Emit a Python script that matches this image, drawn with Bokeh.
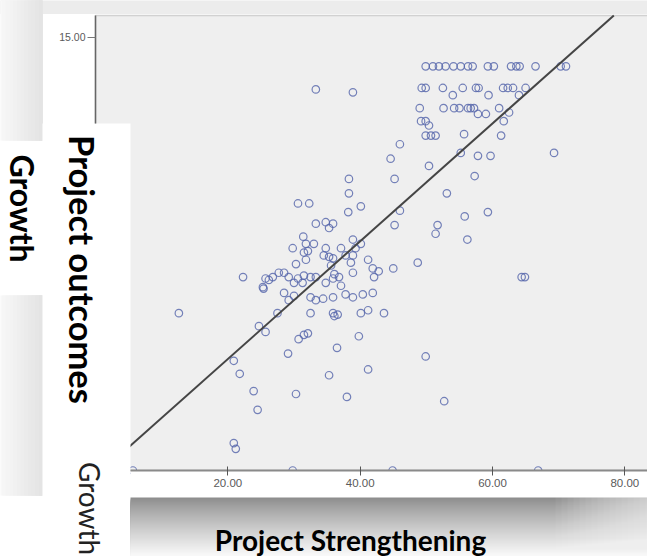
import numpy as np
from bokeh.plotting import figure
from bokeh.models import BoxAnnotation, Label, FixedTicker, NumeralTickFormatter, LinearAxis
from bokeh.embed import file_html
from bokeh.resources import INLINE

# ---------------- data ----------------
strengthening = [
    49.9, 51.0, 51.9, 52.9, 54.1, 55.2, 56.3, 57.0, 59.3, 60.2, 62.8, 63.6, 64.1, 66.5, 70.3, 71.1,
    49.3, 49.9, 52.5, 54.0, 55.5, 57.5, 57.9, 59.4, 61.6, 62.3, 63.1, 64.0, 65.0, 33.3, 38.9,
    49.0, 52.6, 54.2, 55.0, 56.3, 56.7, 57.2, 57.8, 59.0, 61.0, 62.5,
    49.2, 49.9, 50.4, 61.7,
    49.9, 50.7, 51.4, 55.7, 61.3,
    46.0, 44.6, 50.4, 55.2, 57.8, 59.7, 69.3, 45.2, 57.3, 53.1, 38.3, 38.3, 40.1, 38.2, 46.0,
    45.2, 55.8, 59.3, 51.7, 51.4, 56.2, 48.7, 45.0, 64.4, 64.9,
    30.6, 32.3, 33.3, 34.8, 35.9, 35.3, 31.4, 29.8, 31.8, 33.0, 34.8, 35.3, 31.5, 32.1, 30.3,
    31.8, 28.5, 26.8, 26.2, 25.3, 22.3, 34.5, 35.9, 37.1, 37.8, 38.9, 39.3, 40.1, 38.9, 38.6,
    38.9, 41.2, 41.9, 42.8, 42.1, 35.6, 36.1, 27.7, 25.7, 25.4, 29.2, 30.0, 30.6, 31.5, 32.5,
    33.3, 31.3, 34.8, 35.9, 36.8, 37.1, 28.5, 29.2, 30.0, 32.5, 33.3, 34.4, 35.9, 37.8, 38.9,
    40.4, 41.9, 32.5, 35.9, 36.1, 36.6, 40.1, 41.2, 43.6, 31.5, 32.1, 39.8, 25.7, 24.7, 27.5,
    12.6, 30.7, 29.1, 36.5, 35.3, 41.2, 30.3, 38.0, 49.9, 52.7, 24.5, 20.9, 21.8, 23.9, 20.9,
    21.2,
    5.65, 29.8, 44.9, 66.9,
]
growth = [
    14.0, 14.0, 14.0, 14.0, 14.0, 14.0, 14.0, 14.0, 14.0, 14.0, 14.0, 14.0, 14.0, 14.0, 14.0, 14.0,
    13.25, 13.25, 13.25, 13.0, 13.25, 13.25, 13.25, 13.0, 13.25, 13.25, 13.25, 13.0, 13.25, 13.2, 13.1,
    12.55, 12.55, 12.55, 12.55, 12.55, 12.55, 12.55, 12.35, 12.35, 12.55, 12.4,
    12.1, 12.1, 11.95, 12.1,
    11.6, 11.6, 11.6, 11.65, 11.6,
    11.3, 10.8, 10.55, 11.0, 10.9, 10.9, 11.0, 10.1, 10.2, 9.6, 10.1, 9.6, 9.15, 8.95, 9.0,
    8.5, 8.8, 8.95, 8.5, 8.2, 8.0, 7.2, 7.0, 6.7, 6.7,
    9.25, 9.25, 8.55, 8.6, 8.55, 8.4, 8.1, 7.7, 7.85, 7.85, 7.7, 7.4, 7.55, 7.6, 7.15,
    7.3, 6.85, 6.7, 6.6, 6.35, 6.7, 7.45, 7.35, 7.7, 7.45, 8.0, 7.7, 7.85, 7.45, 7.2,
    6.85, 7.3, 7.0, 6.9, 6.7, 7.1, 6.8, 6.85, 6.65, 6.3, 6.7, 6.5, 6.65, 6.75, 6.7,
    6.7, 6.5, 6.5, 6.65, 6.7, 6.4, 6.15, 5.9, 6.05, 6.0, 5.9, 5.95, 6.0, 6.1, 6.0,
    6.1, 6.15, 5.45, 5.45, 5.35, 5.4, 5.45, 5.55, 5.45, 4.7, 4.75, 4.65, 4.8, 5.0, 5.45,
    5.45, 4.55, 4.05, 4.25, 3.3, 3.5, 2.65, 2.55, 3.95, 2.4, 2.1, 3.8, 3.35, 2.75, 0.95,
    0.75,
    0.0, 0.0, 0.0, 0.0,
]
fit_intercept = -0.22
fit_slope = 0.204
x_ticks = [20, 40, 60, 80]
y_ticks = [15]
y_top = 15.76
x_title = "Project Strengthening"
y_title = "Project outcomes"
y_side_bold = "Growth"
y_side = "Growth"

# ---------------- geometry (canvas pixels) ----------------
W, H = 647, 556
X0_PX, Y0_PX = 95.0, 470.0          # where x=0 / y=0 fall
PX_X, PX_Y = 6.617, 28.87           # pixels per data unit

def dx(X):
    return (X - X0_PX) / PX_X

def dy(Y):
    return (Y0_PX - Y) / PX_Y

p = figure(width=W, height=H, x_range=(dx(0), dx(W)), y_range=(dy(H), dy(0)),
           output_backend="svg", toolbar_location=None,
           x_axis_location=None, y_axis_location=None,
           min_border=0, min_border_left=0, min_border_right=0,
           min_border_top=0, min_border_bottom=0)
p.background_fill_color = "white"
p.border_fill_color = "white"
p.outline_line_color = None
p.xgrid.visible = False
p.ygrid.visible = False

# plot area (grey panel with frame line)
p.add_layout(BoxAnnotation(left=0, right=dx(W + 20), bottom=0, top=y_top,
                           fill_color="#efefef", fill_alpha=1.0,
                           line_color="#7a7a7a", line_width=1.5, level="underlay"))

# ---------------- marks ----------------
p.scatter(strengthening, growth, marker="circle", size=7.5, fill_color=None,
          line_color="#5464aa", line_width=1.2, line_alpha=0.8)

fit_x = np.array([0.0, (y_top - fit_intercept) / fit_slope])
fit_y = fit_intercept + fit_slope * fit_x
p.line(fit_x, fit_y, line_color="#454545", line_width=2)

# ---------------- overlays ----------------
def box(X0, X1, Y0, Y1, color, alpha=1.0):
    p.add_layout(BoxAnnotation(left=dx(X0), right=dx(X1), top=dy(Y0), bottom=dy(Y1),
                               fill_color=color, fill_alpha=alpha, line_color=None))

def grey(v):
    v = int(round(v))
    return "#%02x%02x%02x" % (v, v, v)

# white below the plot area (hides lower halves of points on the axis)
box(130, W + 5, 470.5, 497, "white")
# top shade
box(-5, W + 5, -5, 13.5, "#ececec")
# left shaded strips (each overlaps to the right edge of the strip: no seams)
n = 12
for i in range(n):
    X0 = -2 + i * 44 / n
    c = grey(249 - 22 * (i + 0.5) / n)
    box(X0, 42, -5, 140, c)
    box(X0, 42, 295, 495, c)
# white panel over the left of the plot
box(42, 130, 123, H + 5, "white")
# bottom gradient band (overlapping boxes, darkest first)
m = 30
for j in range(m):
    Y0 = 497 + j * 60 / m
    t = (j + 0.5) / m
    box(130, W + 5, Y0, H + 5, grey(138 + 114 * t ** 0.85))
# fade of the band to the right
k = 16
for i in range(k):
    box(555 + i * 6, W + 5, 496.5, H + 5, "white", 0.055)

# ---------------- axes (fixed inside the canvas) ----------------
xaxis = LinearAxis(fixed_location=0, level="overlay", bounds=(dx(130), dx(W + 20)))
xaxis.ticker = FixedTicker(ticks=x_ticks)
xaxis.formatter = NumeralTickFormatter(format="0.00")
xaxis.major_label_text_font = "Liberation Sans"
xaxis.major_label_text_font_size = "11.5px"
xaxis.major_label_text_color = "#5a5a5a"
xaxis.major_tick_in = 4
xaxis.major_tick_out = 5
xaxis.major_tick_line_color = "#555555"
xaxis.minor_tick_line_color = None
xaxis.axis_line_color = "#8a8a8a"
xaxis.axis_line_width = 2
xaxis.major_label_standoff = 3
p.add_layout(xaxis, "below")

yaxis = LinearAxis(fixed_location=0, level="overlay", bounds=(dy(123), y_top))
yaxis.ticker = FixedTicker(ticks=y_ticks)
yaxis.formatter = NumeralTickFormatter(format="0.00")
yaxis.major_label_text_font = "Liberation Sans"
yaxis.major_label_text_font_size = "10.5px"
yaxis.major_label_text_color = "#5a5a5a"
yaxis.major_tick_in = 0
yaxis.major_tick_out = 8
yaxis.major_tick_line_color = "#777777"
yaxis.minor_tick_line_color = None
yaxis.axis_line_color = "#666666"
yaxis.axis_line_width = 1.5
yaxis.major_label_standoff = 2
p.add_layout(yaxis, "left")

# ---------------- texts ----------------
def label(text, X, Y, size, bold=True, angle=0.0, color="#000000"):
    p.add_layout(Label(x=dx(X), y=dy(Y), text=text, angle=angle, angle_units="deg",
                       text_font="Lato", text_font_size=size,
                       text_font_style="bold" if bold else "normal",
                       text_color=color, text_align="center", text_baseline="middle"))

label(y_side_bold, 22, 208, "32px", True, -90)
label(y_title, 82, 269, "34.5px", True, -90)
label(y_side, 89, 508, "28px", False, -90, "#222222")
label(x_title, 350, 539, "28px", True, 0)

open("out.html", "w").write(file_html(p, INLINE))
